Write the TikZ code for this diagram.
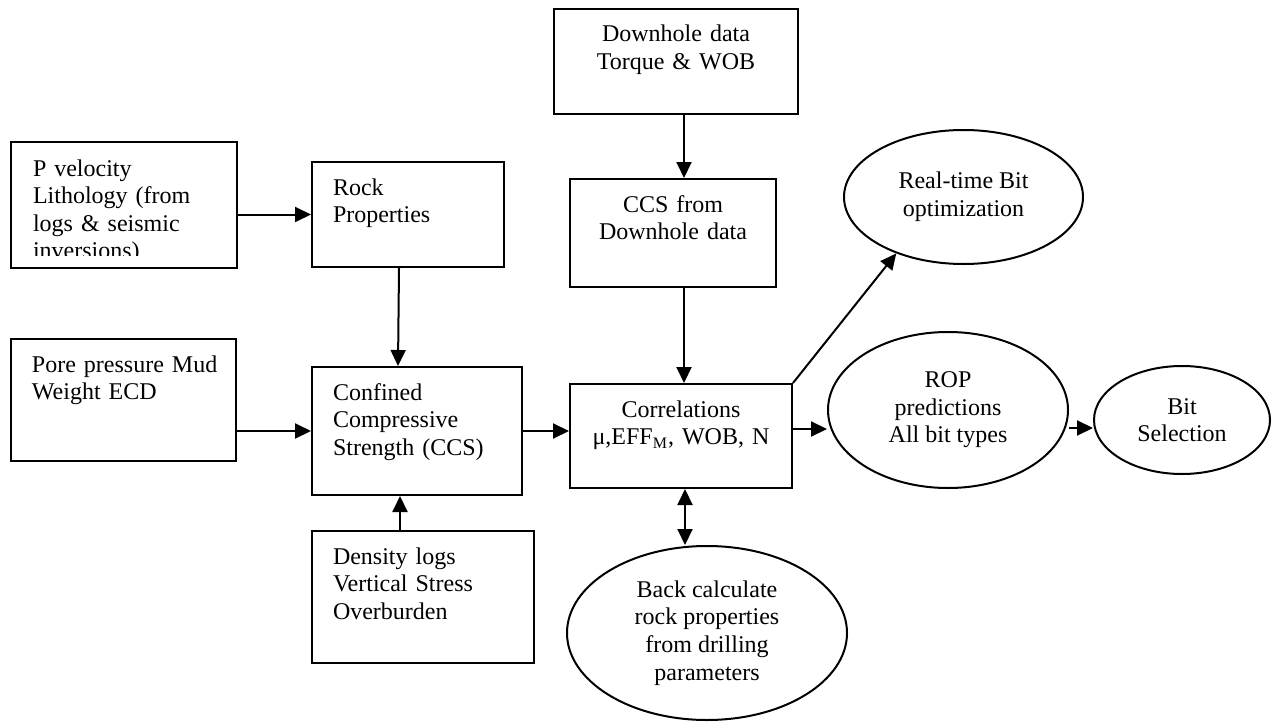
\documentclass[tikz,border=0pt]{standalone}
\usepackage{fontspec}
\setmainfont{Liberation Serif}
\usetikzlibrary{arrows.meta,shapes.geometric,calc}

\begin{document}
\begin{tikzpicture}[x=0.5pt,y=-0.5pt,
  font=\fontsize{12}{13.8}\selectfont,
  box/.style={draw,line width=1pt,rectangle,anchor=north west,inner xsep=10.5pt,inner ysep=0pt,text height=16.5pt,align=left},
  cbox/.style={box,align=center},
  oval/.style={draw,line width=1pt,ellipse,inner sep=0pt,align=center},
  arr/.style={line width=1pt,-{Triangle[length=8pt,width=7.5pt]}},
  dblarr/.style={line width=1pt,{Triangle[length=8pt,width=7.5pt]}-{Triangle[length=8pt,width=7.5pt]}}]
\useasboundingbox (0,0) rectangle (1273,722);

% Input boxes (left column)
\begin{scope}
  \clip (0,0) rectangle (240,255);
  \node[box,draw=none,text width=91pt,text depth=45.5pt] (pvel) at (11,142) {P velocity\\Lithology (from\\logs \& seismic\\inversions)};
\end{scope}
\draw[line width=1pt] (pvel.north west) rectangle (pvel.south east);
\node[box,text width=91.5pt,text depth=44.5pt] (pore) at (10,338) {\mbox{Pore pressure Mud}\\Weight ECD};

% Rock column
\node[box,text width=75pt,text depth=36pt] (rock) at (311,161) {Rock\\Properties};
\node[box,text width=84pt,text depth=47.5pt] (ccs) at (311,366) {Confined\\Compressive\\Strength (CCS)};
\node[box,text width=90pt,text depth=49.5pt] (dens) at (311,530) {Density logs\\Vertical Stress\\Overburden};

% Downhole column
\node[cbox,text width=101pt,text depth=36pt] (down) at (553,8) {Downhole data\\Torque \& WOB};
\node[cbox,text width=82pt,text depth=37.5pt] (ccsd) at (569,178) {CCS from\\Downhole data};
\node[cbox,text width=90pt,text depth=35.5pt] (corr) at (569,383) {Correlations\\μ,EFF\textsubscript{M}, WOB, N};

% Outputs
\node[oval,minimum width=119.5pt,minimum height=67pt] (rt) at (963.5,197) {Real-time Bit\\optimization};
\node[oval,minimum width=120pt,minimum height=78pt] (rop) at (948,410) {ROP\\predictions\\All bit types};
\node[oval,minimum width=88pt,minimum height=54pt] (bit) at (1182,420) {Bit\\Selection};
\node[oval,minimum width=140pt,minimum height=87pt] (back) at (707,633) {Back calculate\\rock properties\\from drilling\\parameters};

% Connectors
\coordinate (d1) at ($(dens.north)+(-23,0)$);
\coordinate (d2) at ($(down.south)+(8,0)$);
\coordinate (d3) at ($(ccsd.south)+(11,0)$);
\coordinate (c1) at ($(corr.east)+(0,-7)$);
\coordinate (c2) at ($(bit.west)+(0,8)$);
\coordinate (c3) at ($(corr.south)+(4,0)$);

\draw[arr] (pvel.east |- rock.west) -- (rock.west);
\draw[arr] ($(rock.south)+(-9,0)$) -- ($(ccs.north)+(-19,0)$);
\draw[arr] (pore.east |- ccs.west) -- (ccs.west);
\draw[arr] (d1) -- (d1 |- ccs.south);
\draw[arr] (ccs.east) -- (ccs.east -| corr.west);
\draw[arr] (d2) -- (d2 |- ccsd.north);
\draw[arr] (d3) -- (d3 |- corr.north);
\draw[arr] (c1) -- (c1 -| rop.west);
\draw[arr] (c2 -| rop.east) -- (c2);
\draw[arr] (corr.north east) -- (rt.220);
\draw[dblarr] (c3) -- (c3 |- back.north);
\end{tikzpicture}
\end{document}
